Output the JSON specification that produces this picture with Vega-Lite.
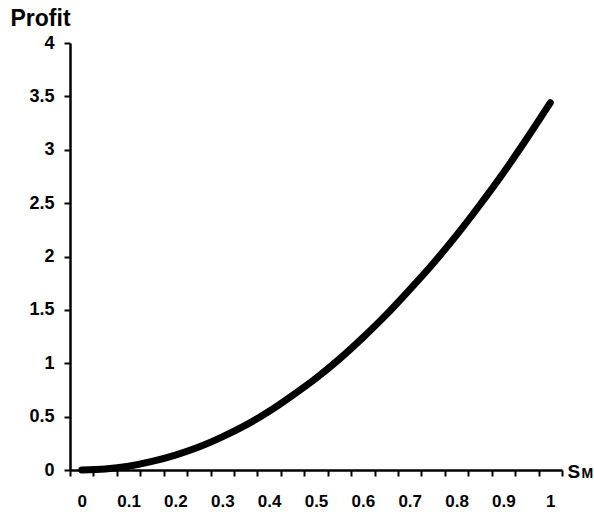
{
  "$schema": "https://vega.github.io/schema/vega-lite/v6.json",
  "width": 492,
  "height": 427,
  "autosize": "none",
  "padding": {"left": 70, "top": 43, "right": 32, "bottom": 46},
  "background": "white",
  "data": {
    "values": [
      {"s": 0, "profit": 0},
      {"s": 0.05, "profit": 0.009},
      {"s": 0.1, "profit": 0.035},
      {"s": 0.15, "profit": 0.08},
      {"s": 0.2, "profit": 0.14},
      {"s": 0.25, "profit": 0.215},
      {"s": 0.3, "profit": 0.31},
      {"s": 0.35, "profit": 0.42},
      {"s": 0.4, "profit": 0.55},
      {"s": 0.45, "profit": 0.7},
      {"s": 0.5, "profit": 0.86},
      {"s": 0.55, "profit": 1.04},
      {"s": 0.6, "profit": 1.24},
      {"s": 0.65, "profit": 1.455},
      {"s": 0.7, "profit": 1.69},
      {"s": 0.75, "profit": 1.935},
      {"s": 0.8, "profit": 2.2},
      {"s": 0.85, "profit": 2.485},
      {"s": 0.9, "profit": 2.785},
      {"s": 0.95, "profit": 3.105},
      {"s": 1, "profit": 3.44}
    ]
  },
  "layer": [
    {
      "mark": {"type": "line", "color": "black", "strokeWidth": 7, "strokeCap": "round", "interpolate": "monotone"},
      "encoding": {
        "x": {
          "field": "s",
          "type": "quantitative",
          "scale": {"domain": [-0.025, 1.025], "nice": false, "zero": false},
          "axis": {
            "orient": "bottom",
            "values": [-0.025, 0.025, 0.075, 0.125, 0.175, 0.225, 0.275, 0.325, 0.375, 0.425, 0.475, 0.525, 0.575, 0.625, 0.675, 0.725, 0.775, 0.825, 0.875, 0.925, 0.975, 1.025],
            "labelExpr": "round((datum.value+0.025)*20)%2==0 ? format(round((datum.value+0.025)*10)/10, '~g') : ''",
            "labelOffset": 11.7,
            "labelFlush": false,
            "labelOverlap": false,
            "labelFont": "Liberation Sans",
            "labelFontSize": 17,
            "labelFontWeight": "bold",
            "labelColor": "black",
            "labelPadding": 17,
            "tickSize": 6,
            "tickWidth": 2,
            "tickColor": "black",
            "domainWidth": 2.5,
            "domainColor": "black",
            "grid": false,
            "title": "S",
            "titleFont": "Liberation Sans",
            "titleFontSize": 19,
            "titleFontWeight": "bold",
            "titleColor": "black",
            "titleX": 497,
            "titleY": 7,
            "titleAlign": "left",
            "titleBaseline": "alphabetic",
            "titleAngle": 0
          }
        },
        "y": {
          "field": "profit",
          "type": "quantitative",
          "scale": {"domain": [0, 4], "nice": false},
          "axis": {
            "values": [0, 0.5, 1, 1.5, 2, 2.5, 3, 3.5, 4],
            "format": "~g",
            "labelFont": "Liberation Sans",
            "labelFontSize": 18,
            "labelFontWeight": "bold",
            "labelColor": "black",
            "labelPadding": 10,
            "tickSize": 6,
            "tickWidth": 2,
            "tickColor": "black",
            "domainWidth": 2.5,
            "domainColor": "black",
            "grid": false,
            "title": "Profit",
            "titleFont": "Liberation Sans",
            "titleFontSize": 23,
            "titleFontWeight": "bold",
            "titleColor": "black",
            "titleAngle": 0,
            "titleX": -60,
            "titleY": -18,
            "titleAlign": "left",
            "titleBaseline": "alphabetic"
          }
        }
      }
    },
    {
      "mark": {"type": "rule", "opacity": 0},
      "encoding": {
        "x": {
          "field": "s",
          "type": "quantitative",
          "axis": {
            "orient": "bottom",
            "labels": false,
            "ticks": false,
            "domain": false,
            "grid": false,
            "title": "M",
            "titleFont": "Liberation Sans",
            "titleFontSize": 14,
            "titleFontWeight": "bold",
            "titleColor": "black",
            "titleX": 511,
            "titleY": 7,
            "titleAlign": "left",
            "titleBaseline": "alphabetic",
            "titleAngle": 0
          }
        }
      }
    }
  ],
  "resolve": {"axis": {"x": "independent"}},
  "config": {"view": {"stroke": null}}
}
